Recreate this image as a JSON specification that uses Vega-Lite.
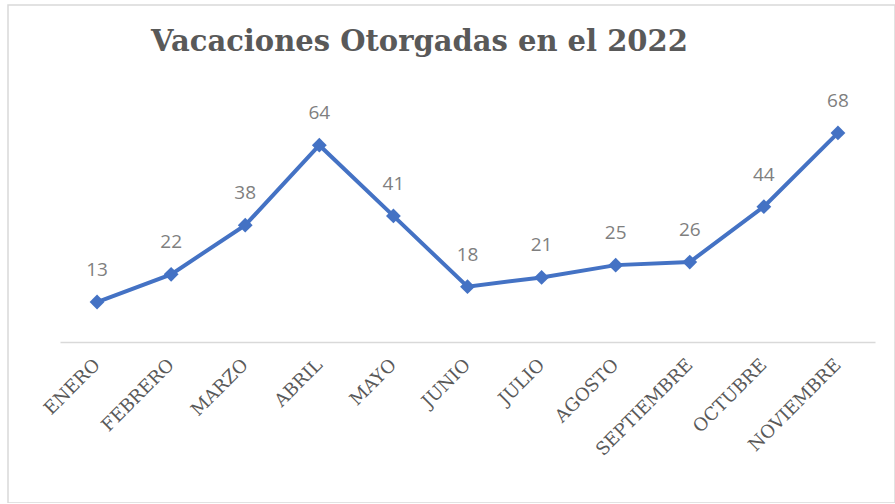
{
  "$schema": "https://vega.github.io/schema/vega-lite/v6.json",
  "autosize": "none",
  "width": 887,
  "height": 498,
  "padding": {"left": 8, "top": 5, "right": 0, "bottom": 0},
  "background": "white",
  "config": {
    "view": {"stroke": "#d9d9d9", "strokeWidth": 1.5}
  },
  "title": {
    "text": "Vacaciones Otorgadas en el 2022",
    "font": "DejaVu Serif",
    "fontSize": 29,
    "fontWeight": "bold",
    "color": "#595959",
    "anchor": "middle",
    "frame": "group",
    "orient": "top",
    "baseline": "alphabetic",
    "offset": -75,
    "dx": -32
  },
  "data": {
    "values": [
      {"mes": "ENERO", "vacaciones": 13},
      {"mes": "FEBRERO", "vacaciones": 22},
      {"mes": "MARZO", "vacaciones": 38},
      {"mes": "ABRIL", "vacaciones": 64},
      {"mes": "MAYO", "vacaciones": 41},
      {"mes": "JUNIO", "vacaciones": 18},
      {"mes": "JULIO", "vacaciones": 21},
      {"mes": "AGOSTO", "vacaciones": 25},
      {"mes": "SEPTIEMBRE", "vacaciones": 26},
      {"mes": "OCTUBRE", "vacaciones": 44},
      {"mes": "NOVIEMBRE", "vacaciones": 68}
    ]
  },
  "encoding": {
    "x": {
      "field": "mes",
      "type": "ordinal",
      "sort": null,
      "scale": {"type": "point", "range": [52, 867], "padding": 0.5},
      "axis": {
        "title": null,
        "offset": -161,
        "domainColor": "#d9d9d9",
        "domainWidth": 1.5,
        "ticks": false,
        "grid": false,
        "labelAngle": -45,
        "labelAlign": "right",
        "labelBaseline": "middle",
        "labelPadding": 20,
        "labelFont": "DejaVu Serif",
        "labelFontSize": 18,
        "labelColor": "#595959",
        "labelOverlap": false
      }
    },
    "y": {
      "field": "vacaciones",
      "type": "quantitative",
      "scale": {"domain": [0, 80], "range": [337, 91], "nice": false, "zero": true},
      "axis": null
    }
  },
  "layer": [
    {
      "mark": {"type": "line", "color": "#4472C4", "strokeWidth": 4}
    },
    {
      "mark": {"type": "point", "shape": "diamond", "filled": true, "opacity": 1, "color": "#4472C4", "size": 220}
    },
    {
      "mark": {"type": "text", "font": "Open Sans", "fontSize": 19, "color": "#7f7f7f", "baseline": "alphabetic", "dy": -26},
      "encoding": {"text": {"field": "vacaciones", "type": "quantitative"}}
    }
  ]
}
